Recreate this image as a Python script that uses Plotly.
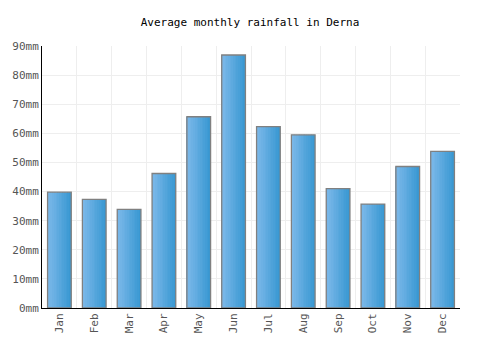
import plotly.graph_objects as go

months = ["Jan", "Feb", "Mar", "Apr", "May", "Jun", "Jul", "Aug", "Sep", "Oct", "Nov", "Dec"]
rainfall_mm = [39.8, 37.3, 33.9, 46.2, 65.7, 86.9, 62.3, 59.5, 41.0, 35.7, 48.6, 53.8]
y_ticks = [0, 10, 20, 30, 40, 50, 60, 70, 80, 90]

x_idx = list(range(len(months)))
bar_w = 0.68
n_strips = 14
c0 = (124, 185, 234)
c1 = (58, 152, 210)

fig = go.Figure()
for i in range(n_strips):
    t = i / (n_strips - 1)
    col = "rgb(%d,%d,%d)" % tuple(round(a + (b - a) * t) for a, b in zip(c0, c1))
    fig.add_trace(go.Bar(
        x=x_idx, y=rainfall_mm,
        width=bar_w / n_strips,
        offset=-bar_w / 2 + i * bar_w / n_strips,
        marker=dict(color=col, line=dict(width=0)),
        hoverinfo="skip", showlegend=False,
    ))
fig.add_trace(go.Bar(
    x=x_idx, y=rainfall_mm, width=bar_w,
    marker=dict(color="rgba(0,0,0,0)", line=dict(color="#808080", width=1.3)),
    showlegend=False, name="Rainfall",
))

fig.update_layout(
    width=500, height=350,
    barmode="overlay",
    margin=dict(l=40, r=40, t=46, b=42),
    paper_bgcolor="white", plot_bgcolor="white",
    font=dict(family="DejaVu Sans Mono", size=11, color="#555555"),
    title=dict(text="Average monthly rainfall in Derna", x=0.5, xanchor="center",
               y=1 - 22 / 350, yanchor="middle",
               font=dict(family="DejaVu Sans Mono", size=11, color="#000000")),
    xaxis=dict(
        range=[-0.5, len(months) - 0.5],
        tickvals=x_idx, ticktext=months, tickangle=-90,
        showgrid=False, zeroline=False,
        showline=True, linecolor="#000000", linewidth=1,
        ticks="", tickfont=dict(size=11, color="#555555"),
        minor=dict(tickvals=[i + 0.5 for i in x_idx], showgrid=True,
                   gridcolor="#eeeeee", gridwidth=1, ticks=""),
    ),
    yaxis=dict(
        range=[0, 90],
        tickvals=y_ticks, ticktext=["%dmm" % v for v in y_ticks],
        showgrid=True, gridcolor="#eeeeee", gridwidth=1,
        zeroline=False,
        showline=True, linecolor="#000000", linewidth=1,
        ticks="", tickfont=dict(size=11, color="#555555"),
    ),
)

fig.write_html("out.html")
